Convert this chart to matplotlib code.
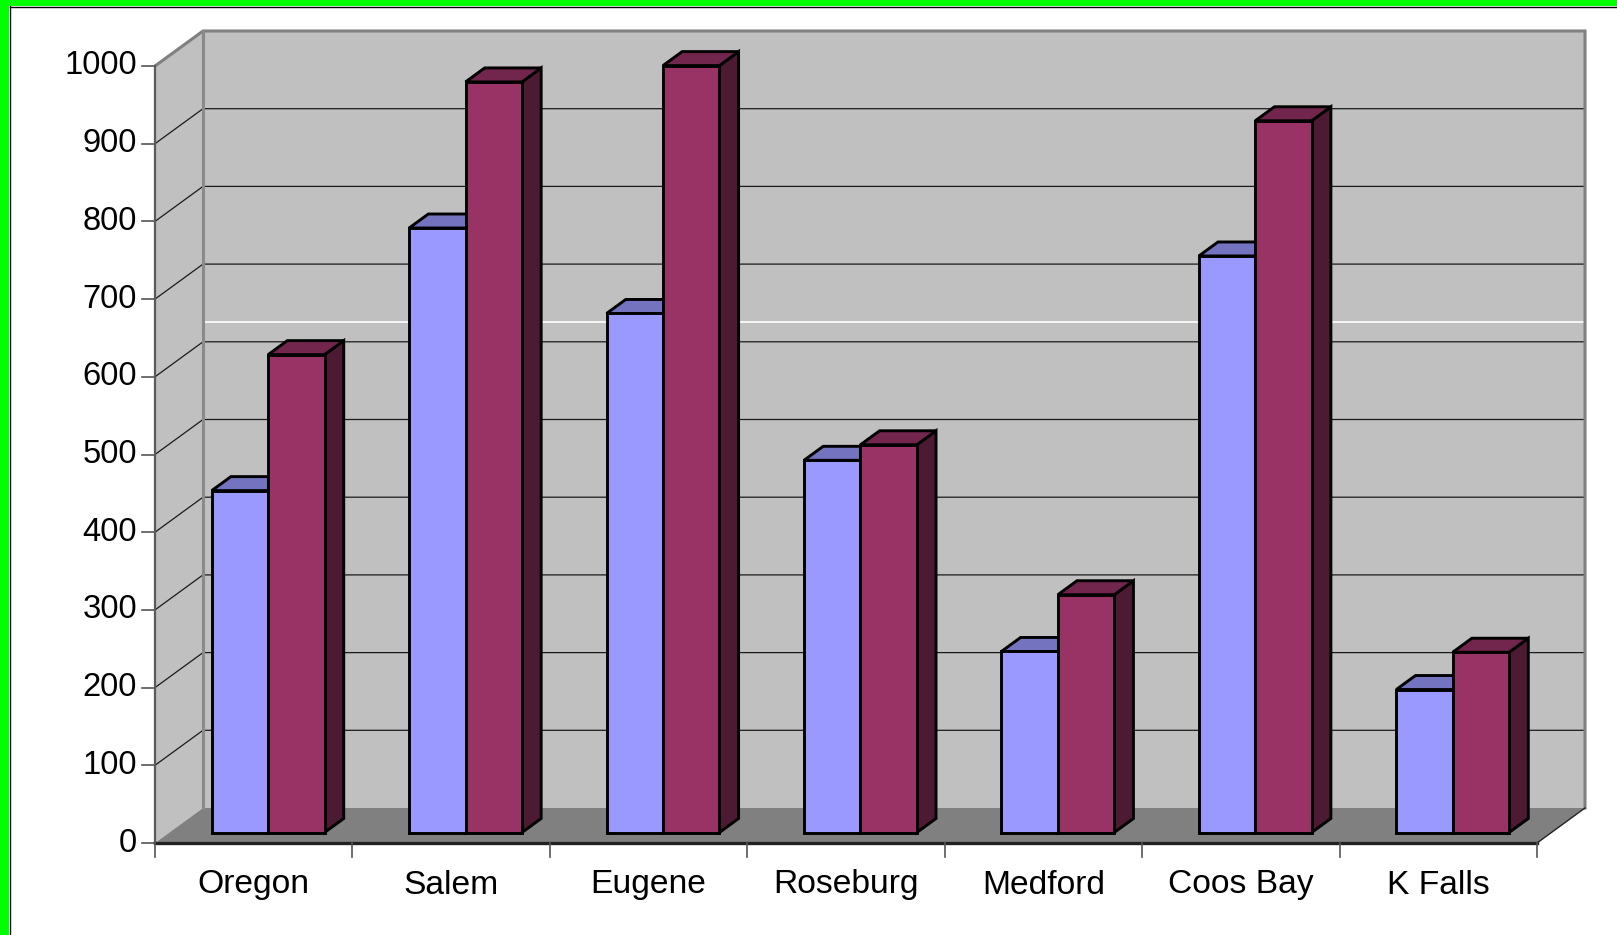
import matplotlib
matplotlib.use("Agg")
import matplotlib.pyplot as plt
from matplotlib.patches import Polygon, Rectangle
import numpy as np

# data
categories = ["Oregon", "Salem", "Eugene", "Roseburg", "Medford", "Coos Bay", "K Falls"]
series_a = [440, 778, 668, 479, 233, 742, 184]
series_b = [615, 966, 987, 499, 306, 916, 232]
y_ticks = [0, 100, 200, 300, 400, 500, 600, 700, 800, 900, 1000]

# colours
wall_c = "#C0C0C0"
floor_c = "#808080"
faces = [
    {"front": "#9999FF", "top": "#7373BF", "side": "#4D4D80"},
    {"front": "#993366", "top": "#73264D", "side": "#4D1A33"},
]

# layout (pixels of a 1617x935 picture)
W, H = 1617, 935
X0, CAT_W = 155.0, 197.43      # front left corner, width of one category
Y0, PPU = 843.0, 0.777         # pixel row of value 0, pixels per value unit
DU = 48.0 / CAT_W              # depth offset in x (category units)
DV = 35.0 / PPU                # depth offset in y (value units)
PX_U = 1.0 / CAT_W             # one pixel in x data units
PX_V = 1.0 / PPU               # one pixel in y data units

gap = 0.75 * (1 / 3.5)         # gap width 150%
bw = 1 / 3.5                   # bar width
z0, dep = 0.3, 0.4             # bar front depth and bar depth (fraction of full depth)
ncat = len(categories)
vmax = y_ticks[-1]

fig = plt.figure(figsize=(W / 100, H / 100), dpi=100)
fig.patch.set_facecolor("white")
ax = fig.add_axes([0, 0, 1, 1])
ax.set_xlim(-X0 / CAT_W, (W - X0) / CAT_W)
ax.set_ylim((Y0 - H) / PPU, Y0 / PPU)
ax.axis("off")

# walls and floor
ax.add_patch(Polygon([(0, 0), (0, vmax), (DU, vmax + DV), (DU, DV)],
                     closed=True, facecolor=wall_c, edgecolor="none", zorder=1))
ax.add_patch(Rectangle((DU, DV), ncat, vmax, facecolor=wall_c, edgecolor="none", zorder=1))
ax.add_patch(Polygon([(0, 0), (ncat, 0), (ncat + DU, DV), (DU, DV)],
                     closed=True, facecolor=floor_c, edgecolor="none", zorder=1))

# gridlines
for v in y_ticks[1:-1]:
    ax.plot([0, DU, ncat + DU], [v, v + DV, v + DV], color="#1a1a1a", lw=0.9, zorder=2)
    ax.plot([-13 * PX_U, 0], [v, v], color="#555555", lw=1.2, zorder=2)
ax.plot([0, -13 * PX_U], [vmax, vmax], color="#555555", lw=1.2, zorder=2)
ax.plot([0, -13 * PX_U], [0, 0], color="#555555", lw=1.2, zorder=2)

# stray white line on the back wall
ax.plot([DU, ncat + DU], [625 + DV, 625 + DV], color="white", lw=1.2, zorder=2)

# wall edges
ax.plot([0, DU, ncat + DU, ncat + DU], [vmax, vmax + DV, vmax + DV, DV],
        color="#808080", lw=2.2, zorder=2, solid_joinstyle="miter")
ax.plot([DU, DU], [DV, vmax + DV], color="#8a8a8a", lw=2.2, zorder=2)
ax.plot([0, 0], [0, vmax], color="#5a5a5a", lw=1.6, zorder=2)
ax.plot([ncat, ncat + DU], [0, DV], color="#222222", lw=1.0, zorder=2)
ax.plot([0, ncat], [0, 0], color="#222222", lw=2.4, zorder=2)

# category ticks
for i in range(ncat + 1):
    ax.plot([i, i], [0, -14 * PX_V], color="#555555", lw=1.2, zorder=2)

# bars
for i in range(ncat):
    for k, vals in enumerate([series_a, series_b]):
        v = vals[i]
        xl = i + gap + k * bw + z0 * DU
        yb = z0 * DV
        top = yb + v
        ddx, ddy = dep * DU, dep * DV
        fc = faces[k]
        ax.add_patch(Polygon([(xl + bw, yb), (xl + bw, top), (xl + bw + ddx, top + ddy),
                              (xl + bw + ddx, yb + ddy)], closed=True,
                             facecolor=fc["side"], edgecolor="black", lw=2.1,
                             joinstyle="miter", zorder=3 + k))
        ax.add_patch(Polygon([(xl, top), (xl + bw, top), (xl + bw + ddx, top + ddy),
                              (xl + ddx, top + ddy)], closed=True,
                             facecolor=fc["top"], edgecolor="black", lw=2.1,
                             joinstyle="miter", zorder=3 + k))
        ax.bar(xl, v, width=bw, bottom=yb, align="edge", color=fc["front"],
               edgecolor="black", linewidth=2.1, zorder=3 + k)

# labels
for v in y_ticks:
    ax.text(-18 * PX_U, v, str(v), ha="right", va="center", fontsize=23.6,
            family="Liberation Sans", color="black")
for i, name in enumerate(categories):
    ax.text(i + 0.5, -42 * PX_V, name, ha="center", va="center", fontsize=24.2,
            family="Liberation Sans", color="black")

# green frame on the left and top edges
fig.patches.append(Rectangle((0, 0), 9 / W, 1, transform=fig.transFigure,
                             facecolor="#00FF00", edgecolor="none", zorder=10))
fig.patches.append(Rectangle((0, 1 - 6 / H), 1, 6 / H, transform=fig.transFigure,
                             facecolor="#00FF00", edgecolor="none", zorder=10))
fig.add_artist(plt.Line2D([9.5 / W, 9.5 / W], [0, 1 - 6 / H], transform=fig.transFigure,
                          color="black", lw=1.0))
fig.add_artist(plt.Line2D([9.5 / W, 1], [1 - 6.5 / H, 1 - 6.5 / H], transform=fig.transFigure,
                          color="black", lw=1.0))

fig.savefig("out.png", dpi=100)
